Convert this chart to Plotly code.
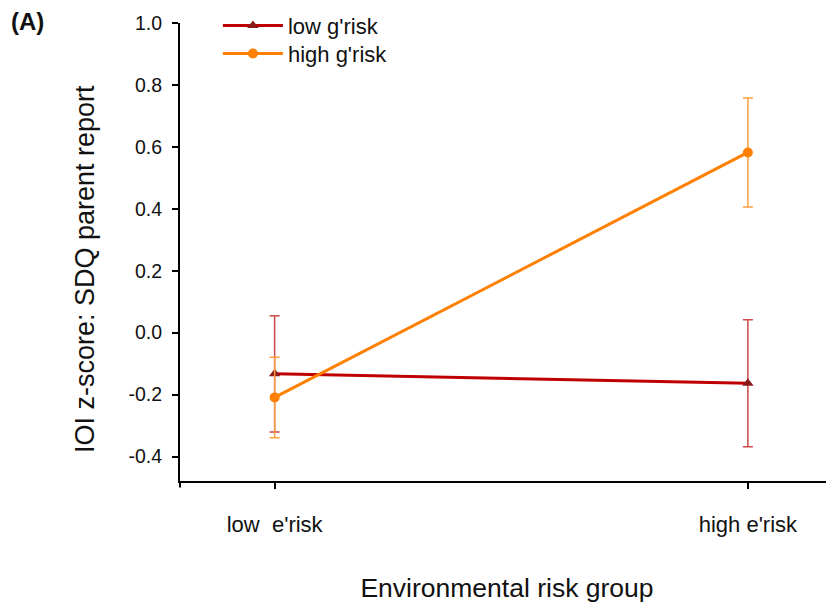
import plotly.graph_objects as go

categories = ["low&nbsp; e'risk", "high e'risk"]
x_pos = [0, 1]
low_g_mean = [-0.133, -0.163]
low_g_err = [0.188, 0.205]
high_g_mean = [-0.209, 0.582]
high_g_err = [0.13, 0.176]
y_ticks = [-0.4, -0.2, 0.0, 0.2, 0.4, 0.6, 0.8, 1.0]

FONT = "Liberation Sans, Arial, Helvetica, sans-serif"

fig = go.Figure()
fig.add_trace(go.Scatter(
    x=x_pos, y=low_g_mean, name="low g'risk", mode="lines+markers",
    line=dict(color="#C00000", width=3),
    marker=dict(symbol="triangle-up", size=10, color="#8B1A1A"),
    error_y=dict(type="data", array=low_g_err, visible=True,
                 color="#CC4A4A", thickness=1.5, width=5),
    legend="legend",
))
fig.add_trace(go.Scatter(
    x=x_pos, y=high_g_mean, name="high g'risk", mode="lines+markers",
    line=dict(color="#FF8000", width=3),
    marker=dict(symbol="circle", size=10, color="#FF8000"),
    error_y=dict(type="data", array=high_g_err, visible=True,
                 color="#FFA040", thickness=1.5, width=5),
    legend="legend2",
))

leg_common = dict(xanchor="left", yanchor="top", bgcolor="rgba(0,0,0,0)",
                  font=dict(size=22), itemwidth=60)

fig.update_layout(
    width=834, height=608,
    margin=dict(l=172, r=8, t=15, b=135, autoexpand=False),
    paper_bgcolor="white", plot_bgcolor="white",
    font=dict(family=FONT, size=19, color="#111111"),
    showlegend=True,
    legend=dict(x=0.058, y=1.040, **leg_common),
    legend2=dict(x=0.058, y=0.979, **leg_common),
    xaxis=dict(
        range=[-0.2, 1.182], tickvals=x_pos, ticktext=categories,
        showline=True, linecolor="black", linewidth=2,
        ticks="outside", ticklen=6, tickwidth=2, tickcolor="black",
        ticklabelstandoff=17, showgrid=False, zeroline=False,
        tickfont=dict(size=22), automargin=False,
        title=dict(text="Environmental risk group", font=dict(size=26.5), standoff=42),
    ),
    yaxis=dict(
        range=[-0.479, 1.0], tickvals=y_ticks,
        ticktext=[f"{v:.1f}" for v in y_ticks],
        showline=True, linecolor="black", linewidth=2,
        ticks="outside", ticklen=6, tickwidth=1.5, tickcolor="black",
        ticklabelstandoff=6, showgrid=False, zeroline=False,
        tickfont=dict(size=19.5), automargin=False,
    ),
    annotations=[
        dict(text="<b>(A)</b>", x=-0.262, y=1.003, xref="paper", yref="paper",
             xanchor="left", yanchor="middle", showarrow=False, font=dict(size=24)),
        dict(text="IOI z-score: SDQ parent report", x=-0.145, y=0.463,
             xref="paper", yref="paper", xanchor="center", yanchor="middle",
             textangle=-90, showarrow=False, font=dict(size=27)),
    ],
    shapes=[dict(type="line", xref="paper", yref="paper", x0=0, x1=0,
                 y0=0, y1=-0.014, line=dict(color="black", width=2))],
)

fig.write_html("out.html")
